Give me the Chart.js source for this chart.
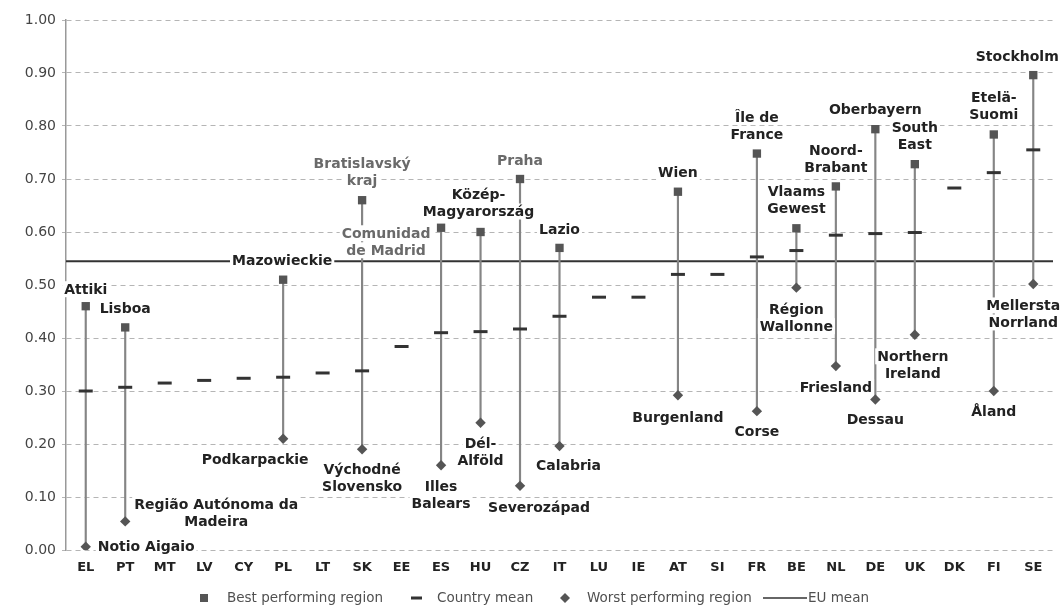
<!DOCTYPE html>
<html>
<head>
<meta charset="utf-8">
<script src="https://cdn.jsdelivr.net/npm/chart.js@4.4.1/dist/chart.umd.min.js"></script>
<style>
  html, body { margin: 0; padding: 0; background: #fff; }
  #wrap { width: 1063px; height: 607px; }
</style>
</head>
<body>
<div id="wrap"><canvas id="chartCanvas" width="1063" height="607"></canvas></div>
<script>
// values
const countries = ['EL', 'PT', 'MT', 'LV', 'CY', 'PL', 'LT', 'SK', 'EE', 'ES', 'HU', 'CZ', 'IT',
  'LU', 'IE', 'AT', 'SI', 'FR', 'BE', 'NL', 'DE', 'UK', 'DK', 'FI', 'SE'];
const countryMean = [0.300, 0.307, 0.315, 0.320, 0.324, 0.326, 0.334, 0.338, 0.384, 0.410, 0.412, 0.417, 0.441,
  0.477, 0.477, 0.520, 0.520, 0.553, 0.565, 0.594, 0.597, 0.599, 0.683, 0.712, 0.755];
const bestValue = [0.460, 0.420, null, null, null, 0.510, null, 0.660, null, 0.608, 0.600, 0.700, 0.570,
  null, null, 0.676, null, 0.748, 0.607, 0.686, 0.794, 0.728, null, 0.784, 0.896];
const worstValue = [0.006, 0.054, null, null, null, 0.210, null, 0.190, null, 0.160, 0.240, 0.121, 0.196,
  null, null, 0.292, null, 0.262, 0.495, 0.347, 0.284, 0.406, null, 0.300, 0.502];
const bestRegion = ['Attiki', 'Lisboa', null, null, null, 'Mazowieckie', null, 'Bratislavský\nkraj', null,
  'Comunidad\nde Madrid', 'Közép-\nMagyarország', 'Praha', 'Lazio', null, null, 'Wien', null,
  'Île de\nFrance', 'Vlaams\nGewest', 'Noord-\nBrabant', 'Oberbayern', 'South\nEast', null, 'Etelä-\nSuomi', 'Stockholm'];
const worstRegion = ['Notio Aigaio', 'Região Autónoma da\nMadeira', null, null, null, 'Podkarpackie', null,
  'Východné\nSlovensko', null, 'Illes\nBalears', 'Dél-\nAlföld', 'Severozápad', 'Calabria', null, null,
  'Burgenland', null, 'Corse', 'Région\nWallonne', 'Friesland', 'Dessau', 'Northern\nIreland', null, 'Åland',
  'Mellersta\nNorrland'];
const euMean = 0.545;
const yTicks = [0, 0.1, 0.2, 0.3, 0.4, 0.5, 0.6, 0.7, 0.8, 0.9, 1.0];

// where each region name sits relative to its marker (pixels)
const labelPlace = {
  'EL best': [0, -17], 'PT best': [0, -19], 'PL best': [-1, -19], 'SK best': [0, -28],
  'ES best': [-55, 14], 'HU best': [-2, -29], 'CZ best': [0, -19], 'IT best': [0, -19],
  'AT best': [0, -19], 'FR best': [0, -28], 'BE best': [0, -28], 'NL best': [0, -28],
  'DE best': [0, -20], 'UK best': [0, -28], 'FI best': [0, -29], 'SE best': [-16, -19],
  'EL worst': [12, 0, 'left'], 'PT worst': [91, -9], 'PL worst': [-28, 21], 'SK worst': [0, 29],
  'ES worst': [0, 30], 'HU worst': [0, 29], 'CZ worst': [19, 21], 'IT worst': [9, 19],
  'AT worst': [0, 22], 'FR worst': [0, 20], 'BE worst': [0, 30], 'NL worst': [0, 21],
  'DE worst': [0, 20], 'UK worst': [-2, 30], 'FI worst': [0, 20], 'SE worst': [-10, 30]
};
const greyLabels = ['SK best', 'ES best', 'CZ best'];

const FONT = '"DejaVu Sans", Verdana, sans-serif';

const euLine = {
  id: 'euLine',
  beforeDatasetsDraw(chart) {
    const { ctx, chartArea } = chart;
    const y = chart.scales.y.getPixelForValue(euMean);
    ctx.save();
    ctx.strokeStyle = '#333';
    ctx.lineWidth = 2;
    ctx.beginPath();
    ctx.moveTo(chartArea.left, y);
    ctx.lineTo(chartArea.right, y);
    ctx.stroke();
    ctx.restore();
  }
};

const regionLabels = {
  id: 'regionLabels',
  afterDatasetsDraw(chart) {
    const { ctx } = chart;
    const xs = chart.scales.x, ys = chart.scales.y;
    ctx.save();
    ctx.font = 'bold 14px ' + FONT;
    ctx.textBaseline = 'middle';
    const lineH = 17;
    [['best', bestValue, bestRegion], ['worst', worstValue, worstRegion]].forEach(([kind, vals, names]) => {
      countries.forEach((c, i) => {
        if (!names[i]) return;
        const key = c + ' ' + kind;
        const [dx, dy, align] = labelPlace[key];
        const px = xs.getPixelForValue(i) + dx;
        const py = ys.getPixelForValue(vals[i]) + dy;
        const lines = names[i].split('\n');
        lines.forEach((t, k) => {
          const ly = py + (k - (lines.length - 1) / 2) * lineH;
          const w = ctx.measureText(t).width;
          const left = align === 'left' ? px : px - w / 2;
          ctx.fillStyle = '#fff';
          ctx.fillRect(left - 2, ly - 8, w + 4, 16);
          ctx.fillStyle = greyLabels.includes(key) ? '#6a6a6a' : '#222';
          ctx.textAlign = 'left';
          ctx.fillText(t, left, ly + 1);
        });
      });
    });
    ctx.restore();
  }
};

const legendRow = {
  id: 'legendRow',
  afterDraw(chart) {
    const { ctx } = chart;
    const y = 598;
    ctx.save();
    ctx.font = '13.5px ' + FONT;
    ctx.textBaseline = 'middle';
    // best
    ctx.fillStyle = '#555';
    ctx.fillRect(200, y - 4, 8, 8);
    ctx.fillStyle = '#505050';
    ctx.fillText('Best performing region', 227, y);
    // country mean
    ctx.fillStyle = '#333';
    ctx.fillRect(411, y - 1.5, 11, 3);
    ctx.fillStyle = '#505050';
    ctx.fillText('Country mean', 437, y);
    // worst
    ctx.fillStyle = '#555';
    ctx.beginPath();
    ctx.moveTo(565, y - 5); ctx.lineTo(570, y); ctx.lineTo(565, y + 5); ctx.lineTo(560, y);
    ctx.closePath(); ctx.fill();
    ctx.fillStyle = '#505050';
    ctx.fillText('Worst performing region', 587, y);
    // eu mean
    ctx.strokeStyle = '#333';
    ctx.lineWidth = 1.5;
    ctx.beginPath(); ctx.moveTo(763, y); ctx.lineTo(807, y); ctx.stroke();
    ctx.fillText('EU mean', 808, y);
    ctx.restore();
  }
};

const ctx = document.getElementById('chartCanvas').getContext('2d');
new Chart(ctx, {
  data: {
    labels: countries,
    datasets: [
      {
        type: 'bar',
        label: 'Range',
        data: countries.map((c, i) => bestValue[i] == null ? null : [worstValue[i], bestValue[i]]),
        backgroundColor: '#858585',
        barThickness: 1.5,
        order: 4
      },
      {
        type: 'line',
        label: 'Country mean',
        data: countryMean,
        showLine: false,
        pointStyle: 'line',
        pointRadius: 7,
        pointBorderWidth: 3,
        borderColor: '#333',
        order: 3
      },
      {
        type: 'line',
        label: 'Best performing region',
        data: bestValue,
        showLine: false,
        pointStyle: 'rect',
        pointRadius: 5.9,
        pointBorderWidth: 0,
        backgroundColor: '#555',
        borderColor: '#555',
        order: 2
      },
      {
        type: 'line',
        label: 'Worst performing region',
        data: worstValue,
        showLine: false,
        pointStyle: 'rectRot',
        pointRadius: 5.2,
        pointBorderWidth: 0,
        backgroundColor: '#555',
        borderColor: '#555',
        order: 1
      }
    ]
  },
  options: {
    responsive: false,
    animation: false,
    events: [],
    layout: { padding: { left: 6, right: 10, top: 20, bottom: 27 } },
    plugins: {
      legend: { display: false },
      tooltip: { enabled: false }
    },
    scales: {
      x: {
        type: 'category',
        offset: true,
        grid: { display: false, drawTicks: false },
        border: { display: false },
        ticks: { font: { family: FONT, size: 13, weight: 'bold' }, color: '#222', padding: 10, maxRotation: 0, autoSkip: false },
        afterFit(s) { s.height = 30; }
      },
      y: {
        min: 0,
        max: 1,
        afterBuildTicks(s) { s.ticks = yTicks.map(v => ({ value: v })); },
        grid: { color: '#b5b5b5', lineWidth: 1, tickLength: 4, drawTicks: true },
        border: { display: true, color: '#999', width: 1.5, dash: [5, 4] },
        ticks: {
          font: { family: FONT, size: 14 },
          color: '#444',
          padding: 6,
          callback: v => v.toFixed(2)
        },
        afterFit(s) { s.width = 60; }
      }
    }
  },
  plugins: [euLine, regionLabels, legendRow]
});
</script>
</body>
</html>
